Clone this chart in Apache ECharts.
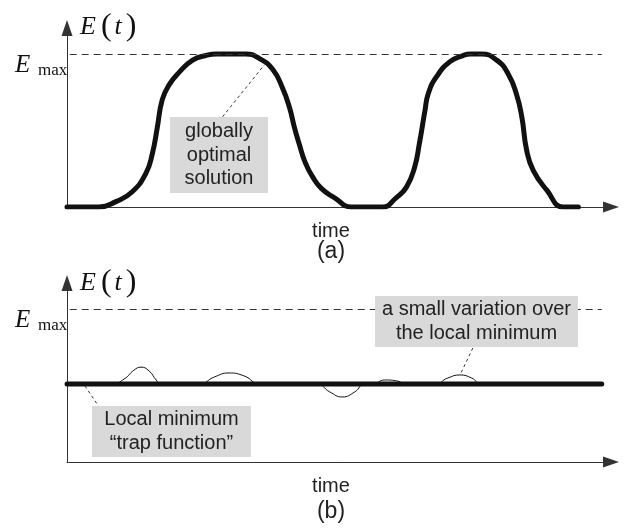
<!DOCTYPE html>
<html>
<head>
<meta charset="utf-8">
<script src="https://cdn.jsdelivr.net/npm/echarts@6/dist/echarts.min.js"></script>
<style>
  html, body { margin: 0; padding: 0; background: #fff; }
  #chart { width: 631px; height: 529px; }
</style>
</head>
<body>
<div id="chart"></div>
<script>
// (a) energy of the globally optimal solution over time
const timeA = [0, 5.9, 9.0, 12.0, 14.5, 15.7, 16.6, 17.5, 18.8, 20.6, 23.1, 25.5, 27.5, 32.9, 35.4, 37.8, 39.6, 40.9, 41.8, 42.7,
  43.8, 45.1, 46.8, 49.2, 52.3, 58.0, 60.5, 62.4, 63.9, 64.8, 65.8, 66.4, 67.9, 70.4, 72.8, 74.2, 76.2, 79.0, 81.1, 82.6,
  83.6, 84.5, 85.7, 88.2, 91.2, 94.0]
const energyA = [0, 0, 0.035, 0.10, 0.22, 0.35, 0.52, 0.70, 0.80, 0.88, 0.96, 0.99, 1, 1, 0.97, 0.90, 0.78, 0.65, 0.52, 0.41,
  0.29, 0.20, 0.12, 0.06, 0, 0, 0.06, 0.13, 0.26, 0.42, 0.63, 0.74, 0.85, 0.95, 0.99, 1, 1, 0.96, 0.87, 0.74,
  0.59, 0.37, 0.24, 0.11, 0, 0]

// (b) local minimum "trap function" and a small variation over it
const trapTime = [0, 98.3]
const trapLevel = [0.51, 0.51]
const timeB = [0, 8.3, 10.5, 12.3, 13.6, 15.1, 16.4, 17.3, 24.3, 27.1, 29.8, 32.6, 35.5, 45.9, 48.3, 50.6, 52.9, 54.7,
  56.2, 58.4, 60.8, 62.1, 67.6, 70.0, 72.2, 74.4, 76.2, 98.3]
const varB = [0.51, 0.51, 0.542, 0.60, 0.62, 0.595, 0.536, 0.51, 0.51, 0.556, 0.582, 0.562, 0.51, 0.51, 0.458, 0.425, 0.458, 0.51,
  0.51, 0.536, 0.529, 0.51, 0.51, 0.549, 0.569, 0.549, 0.51, 0.51]

const eMax = 1
const eMaxSpan = [0.5, 98.3]
// leader lines [from, to] in (time, E)
const leaderA = [[28.6, 0.59], [36.3, 0.93]]
const leaderVar = [[74.6, 0.745], [72.4, 0.58]]
const leaderTrap = [[3.3, 0.497], [5.9, 0.36]]

const zip = (xs, ys) => xs.map((x, i) => [x, ys[i]])

const axisColor = '#333'
const sans = '"Liberation Sans", Arial, sans-serif'
const serif = '"Liberation Serif", "Times New Roman", serif'

const dashed = { type: [7, 5], color: '#333', width: 1 }
const dotted = { type: [3, 3], color: '#333', width: 1 }

const pair = (a, b, style) => [
  { coord: a, lineStyle: style },
  { coord: b, lineStyle: style }
]

const makeMarkLine = lines => ({
  silent: true,
  symbol: ['none', 'none'],
  label: { show: false },
  emphasis: { disabled: true },
  data: lines
})

const xAxisBase = gridIndex => ({
  type: 'value',
  gridIndex,
  min: 0,
  max: 100,
  axisLine: {
    lineStyle: { color: axisColor, width: 1 },
    symbol: ['none', 'triangle'],
    symbolSize: [11, 16]
  },
  axisTick: { show: false },
  axisLabel: { show: false },
  splitLine: { show: false }
})

const yAxisBase = gridIndex => ({
  type: 'value',
  gridIndex,
  min: 0,
  max: 1.17,
  axisLine: {
    show: true,
    lineStyle: { color: axisColor, width: 1 },
    symbol: ['none', 'triangle'],
    symbolSize: [11, 16]
  },
  axisTick: { show: false },
  axisLabel: { show: false },
  splitLine: { show: false }
})

const eLabel = (x, y) => ({
  type: 'text',
  z: 100,
  style: {
    x, y,
    text: '{e|E}{p|(}{t|t}{p|)}',
    verticalAlign: 'middle',
    fill: '#111',
    rich: {
      e: { fontFamily: serif, fontStyle: 'italic', fontSize: 26, padding: [0, 5, 0, 0] },
      t: { fontFamily: serif, fontStyle: 'italic', fontSize: 26, padding: [0, 4, 0, 3] },
      p: { fontFamily: serif, fontSize: 32 }
    }
  }
})

const eMaxLabel = (y) => [
  { type: 'text', z: 100, style: { x: 15, y, text: 'E', font: 'italic 25px ' + serif, fill: '#111', verticalAlign: 'middle' } },
  { type: 'text', z: 100, style: { x: 38, y: y + 6, text: 'max', font: '17px ' + serif, fill: '#111', verticalAlign: 'middle' } }
]

const note = (x, y, w, h, text, lineHeight) => [
  { type: 'rect', z: 100, shape: { x, y, width: w, height: h }, style: { fill: '#d9d9d9' } },
  {
    type: 'text', z: 101,
    style: {
      x: x + w / 2, y: y + h / 2, text,
      font: '20px ' + sans, fill: '#222',
      align: 'center', verticalAlign: 'middle', lineHeight
    }
  }
]

const caption = (x, y, text, size) => ({
  type: 'text', z: 100,
  style: { x, y, text, font: size + 'px ' + sans, fill: '#222', align: 'center', verticalAlign: 'middle' }
})

const option = {
  animation: false,
  backgroundColor: '#fff',
  grid: [
    { left: 67, right: 20, top: 28, height: 179 },
    { left: 67, right: 20, top: 283, height: 179 }
  ],
  xAxis: [xAxisBase(0), xAxisBase(1)],
  yAxis: [yAxisBase(0), yAxisBase(1)],
  series: [
    {
      type: 'line',
      xAxisIndex: 0,
      yAxisIndex: 0,
      data: zip(timeA, energyA),
      smooth: 0.5,
      showSymbol: false,
      lineStyle: { color: '#111', width: 5, cap: 'round', join: 'round' },
      markLine: makeMarkLine([
        pair([eMaxSpan[0], eMax], [eMaxSpan[1], eMax], dashed),
        pair(leaderA[0], leaderA[1], dotted)
      ])
    },
    {
      type: 'line',
      xAxisIndex: 1,
      yAxisIndex: 1,
      data: zip(timeB, varB),
      smooth: 0.5,
      showSymbol: false,
      lineStyle: { color: '#111', width: 1 },
      markLine: makeMarkLine([
        pair([eMaxSpan[0], eMax], [eMaxSpan[1], eMax], dashed),
        pair(leaderVar[0], leaderVar[1], dotted),
        pair(leaderTrap[0], leaderTrap[1], dotted)
      ])
    },
    {
      type: 'line',
      xAxisIndex: 1,
      yAxisIndex: 1,
      data: zip(trapTime, trapLevel),
      showSymbol: false,
      lineStyle: { color: '#111', width: 5, cap: 'round' }
    }
  ],
  graphic: [
    eLabel(80, 27),
    eLabel(80, 283),
    ...eMaxLabel(65),
    ...eMaxLabel(320),
    ...note(170, 117, 98, 76, 'globally\noptimal\nsolution', 23.5),
    ...note(375, 296, 203, 51, 'a small variation over\nthe local minimum', 24),
    ...note(92, 406, 159, 51, 'Local minimum\n\u201ctrap function\u201d', 24),
    caption(331, 231, 'time', 20),
    caption(331, 252, '(a)', 23),
    caption(331, 486, 'time', 20),
    caption(331, 512, '(b)', 23)
  ]
}

const chart = echarts.init(document.getElementById('chart'))
chart.setOption(option)
</script>
</body>
</html>
